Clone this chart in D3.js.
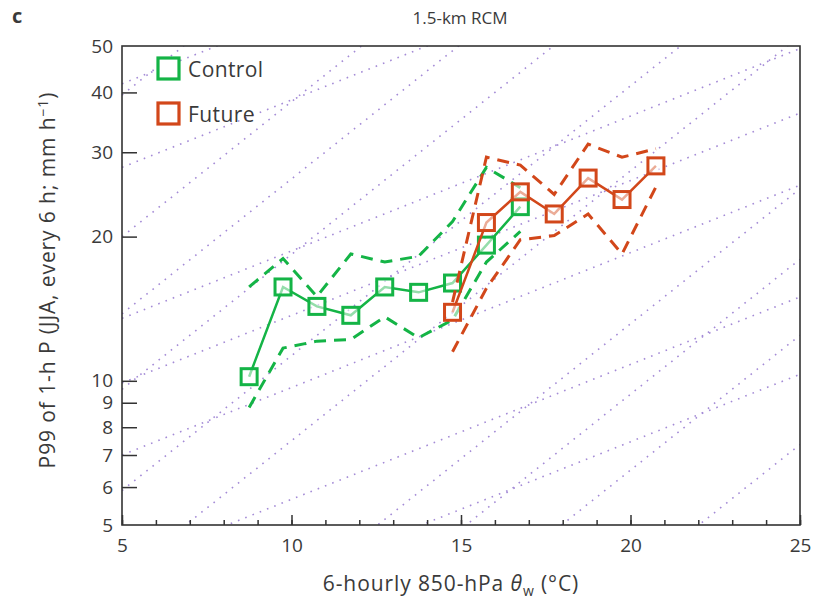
<!DOCTYPE html>
<html>
<head>
<meta charset="utf-8">
<script src="https://cdn.jsdelivr.net/npm/d3@7"></script>
<style>
  body { margin: 0; background: #fff; }
  text { font-family: "Open Sans", sans-serif; fill: #3a3a3a; }
</style>
</head>
<body>
<script>

  // temperatures (deg C) of the bins
  var controlT = [8.75, 9.75, 10.75, 11.75, 12.75, 13.75, 14.75, 15.75, 16.75];
  var controlMid = [10.2, 15.7, 14.3, 13.7, 15.7, 15.3, 16.0, 19.2, 23.1];
  var controlLo = [8.8, 11.7, 12.1, 12.2, 13.6, 12.3, 13.4, 17.7, 20.5];
  var controlHi = [15.7, 18.0, 15.0, 18.4, 17.7, 18.2, 21.5, 27.9, 25.3];

  var futureT = [14.75, 15.75, 16.75, 17.75, 18.75, 19.75, 20.75];
  var futureMid = [13.9, 21.4, 24.8, 22.3, 26.5, 23.9, 28.1];
  var futureLo = [11.5, 15.6, 19.7, 20.1, 22.3, 18.4, 25.4];
  var futureHi = [14.6, 29.3, 28.2, 24.5, 31.2, 29.3, 30.5];

  // scaling reference lines, value at 5 deg C
  var ccRate = 1.067;
  var ccLines = [41.7, 27.9, 13.5, 9.9, 7.0, 4.09, 2.82];
  var cc2Lines = [39.5, 20.0, 13.8, 9.6, 5.9, 3.92, 1.88, 1.34, 0.93, 0.55];

  var xTicks = [5, 10, 15, 20, 25];
  var yTicks = [5, 6, 7, 8, 9, 10, 20, 30, 40, 50];

  var green = "#14b446", orange = "#d2471a";

  var width = 814, height = 607;
  var pLeft = 122, pRight = 800, pTop = 46, pBottom = 525;

  var svg = d3.select("body").append("svg")
      .attr("width", width)
      .attr("height", height);

  var x = d3.scaleLinear().domain([5, 25]).range([pLeft, pRight]);
  var y = d3.scaleLog().domain([5, 50]).range([pBottom, pTop]);

  svg.append("clipPath").attr("id", "plot")
    .append("rect")
      .attr("x", pLeft).attr("y", pTop)
      .attr("width", pRight - pLeft).attr("height", pBottom - pTop);

  // dotted CC / 2CC lines
  var refs = svg.append("g").attr("clip-path", "url(#plot)");
  var refLine = function(v5, rate) {
    return [[5, v5], [25, v5 * Math.pow(rate, 20)]];
  };
  var line = d3.line()
      .x(function(d) { return x(d[0]); })
      .y(function(d) { return y(d[1]); });

  refs.selectAll("path.cc")
    .data(ccLines.map(function(v) { return refLine(v, ccRate); })
      .concat(cc2Lines.map(function(v) { return refLine(v, ccRate * ccRate); })))
    .enter().append("path")
      .attr("d", line)
      .attr("fill", "none")
      .attr("stroke", "#a48bd6")
      .attr("stroke-width", 1.6)
      .attr("stroke-dasharray", "1.6 6.2");

  // axes
  var yAxis = d3.axisLeft(y)
      .tickValues(yTicks)
      .tickFormat(d3.format("d"))
      .tickSize(-15)
      .tickPadding(9);

  var yg = svg.append("g")
      .attr("transform", "translate(" + pLeft + ",0)")
      .call(yAxis);
  yg.select(".domain").remove();
  yg.selectAll(".tick line")
      .attr("stroke", "#333")
      .attr("stroke-width", 1.5)
      .attr("opacity", function(d) { return (d == 5 || d == 50) ? 0 : 1; });
  yg.selectAll(".tick text").style("font-size", "19px").attr("fill", "#3a3a3a");

  var xg = svg.append("g")
      .attr("transform", "translate(0," + pBottom + ")");
  xg.call(d3.axisBottom(x).ticks(20).tickFormat("").tickSize(-5));
  xg.select(".domain").remove();
  xg.selectAll(".tick line").attr("stroke", "#333").attr("stroke-width", 1.5);

  var xg2 = svg.append("g")
      .attr("transform", "translate(0," + pBottom + ")")
      .call(d3.axisBottom(x).tickValues(xTicks).tickSize(-10).tickPadding(14));
  xg2.select(".domain").remove();
  xg2.selectAll(".tick line").attr("stroke", "#333").attr("stroke-width", 1.5);
  xg2.selectAll(".tick text").style("font-size", "19px").attr("fill", "#3a3a3a");

  svg.append("rect")
      .attr("x", pLeft).attr("y", pTop)
      .attr("width", pRight - pLeft).attr("height", pBottom - pTop)
      .attr("fill", "none")
      .attr("stroke", "#333")
      .attr("stroke-width", 1.6);

  // series
  var drawSeries = function(t, lo, mid, hi, color) {
    var g = svg.append("g");
    [lo, hi].forEach(function(vals) {
      g.append("path")
        .datum(t.map(function(d, i) { return [d, vals[i]]; }))
        .attr("d", line)
        .attr("fill", "none")
        .attr("stroke", color)
        .attr("stroke-width", 3)
        .attr("stroke-dasharray", "12 8");
    });
    var pts = t.map(function(d, i) { return [d, mid[i]]; });
    g.append("path")
      .datum(pts)
      .attr("d", line)
      .attr("fill", "none")
      .attr("stroke", color)
      .attr("stroke-width", 2.5);
    g.selectAll("rect")
      .data(pts)
      .enter().append("rect")
        .attr("x", function(d) { return x(d[0]) - 8; })
        .attr("y", function(d) { return y(d[1]) - 8; })
        .attr("width", 16)
        .attr("height", 16)
        .attr("fill", "#fff")
        .attr("fill-opacity", 0.55)
        .attr("stroke", color)
        .attr("stroke-width", 3);
  };

  drawSeries(controlT, controlLo, controlMid, controlHi, green);
  drawSeries(futureT, futureLo, futureMid, futureHi, orange);

  // legend
  var legend = svg.append("g");
  [["Control", green], ["Future", orange]].forEach(function(d, i) {
    legend.append("rect")
      .attr("x", 158).attr("y", 58 + i * 45)
      .attr("width", 21).attr("height", 21)
      .attr("fill", "#fff")
      .attr("stroke", d[1])
      .attr("stroke-width", 3.2);
    legend.append("text")
      .attr("x", 188).attr("y", 77 + i * 45)
      .style("font-size", "21px")
      .style("letter-spacing", "0.4px")
      .text(d[0]);
  });

  // titles
  svg.append("text")
      .attr("x", 12).attr("y", 23)
      .style("font-size", "20px")
      .style("font-weight", "bold")
      .attr("fill", "#222")
      .text("c");

  svg.append("text")
      .attr("x", 460).attr("y", 24)
      .attr("text-anchor", "middle")
      .style("font-size", "17px")
      .text("1.5-km RCM");

  var xl = svg.append("text")
      .attr("x", 451).attr("y", 591)
      .attr("text-anchor", "middle")
      .style("font-size", "21px")
      .style("letter-spacing", "0.9px");
  xl.append("tspan").text("6-hourly 850-hPa ");
  xl.append("tspan").style("font-style", "italic").text("θ");
  xl.append("tspan").attr("dy", 5).style("font-size", "14px").text("w");
  xl.append("tspan").attr("dy", -5).text(" (°C)");

  var yl = svg.append("text")
      .attr("transform", "translate(55,280) rotate(-90)")
      .attr("text-anchor", "middle")
      .style("font-size", "21px")
      .style("letter-spacing", "0.9px");
  yl.append("tspan").text("P99 of 1-h P (JJA, every 6 h; mm h");
  yl.append("tspan").attr("dy", -7).style("font-size", "14px").text("−1");
  yl.append("tspan").attr("dy", 7).text(")");

</script>
</body>
</html>
